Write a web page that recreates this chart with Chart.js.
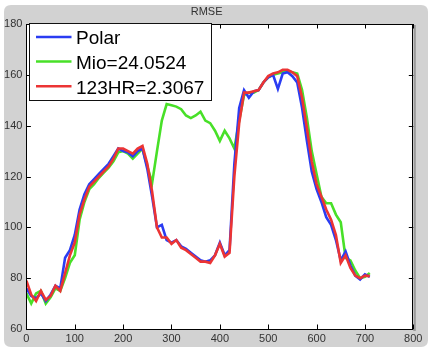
<!DOCTYPE html>
<html>
<head>
<meta charset="utf-8">
<script src="https://cdn.jsdelivr.net/npm/chart.js@4"></script>
<style>
html,body{margin:0;padding:0;background:#fff;}
#c{display:block;}
</style>
</head>
<body>
<canvas id="c" width="434" height="355"></canvas>
<script>
const titleText = "RMSE";
const xTicks = [0,100,200,300,400,500,600,700,800];
const yTicks = [60,80,100,120,140,160,180];
const xs = [0,10,20,30,40,50,60,70,80,90,100,110,120,130,140,150,160,170,180,190,200,210,220,230,240,250,260,270,280,290,300,310,320,330,340,350,360,370,380,390,400,410,420,430,440,450,460,470,480,490,500,510,520,530,540,550,560,570,580,590,600,610,620,630,640,650,660,670,680,690,700,710];
const polarLabel = "Polar";
const polar = [76,73,72,74,71,73.5,77,76,88,91,97,107,113,117,119,121,123,125,128,131,130,129.5,128,130,131,123,112,100,101,95,94,95,92.5,91.5,90,88.5,87,86.5,87,89,94,89,91,125,147,154,151,153.5,154,157,159,160,154.5,160.5,161,159.5,157,147,134,122,115,110,104,101,95,87,90.5,85,81,79.5,81.5,80.5];
const mioLabel = "Mio=24.0524";
const mio = [74,70,74,75,70,72.5,76,75,80,86,89,103,110,115,117,119.5,121.5,123.5,126,129.5,130,129,127,129,131,124,117.5,130,142,148.5,148,147.5,146.5,144,143,144,145.5,142,141,138,134,138,135,131,142,152,153,153,154,157,159,160,160.5,161,161.5,161,160.5,154,143,130,121,112,109.5,109.5,105,102,88,87,83,80,80.5,82];
const hrLabel = "123HR=2.3067";
const hr = [79,73.5,71,75,71.5,73,77,75,82,89,94,105,111,116,118,120,122,124,127,131,131,130,129,131,132,125,114,100,96,96,93.5,95,92,91,89.5,88,86.5,86.5,86,89,93.5,88.5,90,120,141,153,153,153.5,154,157,159.5,160.5,161,162,162,161,159.5,151,139,126,117,112,107,103,97,86,89,84,81,80,81,80.8];

const toPts = ys => xs.map((x,i)=>({x:x,y:ys[i]}));

const plotLeft = 26.4, plotTop = 24, plotRight = 413.3, plotBottom = 329;

const framePlugin = {
  id:'frame',
  beforeDraw(chart){
    const ctx = chart.ctx;
    ctx.save();
    ctx.fillStyle = '#ffffff';
    ctx.fillRect(0,0,chart.width,chart.height);
    // gray figure background
    ctx.fillStyle = '#d2d2d2';
    const x0=4,y0=5,x1=428,y1=347,r=7;
    ctx.beginPath();
    ctx.moveTo(x0+r,y0);ctx.lineTo(x1-r,y0);ctx.quadraticCurveTo(x1,y0,x1,y0+r);
    ctx.lineTo(x1,y1-r);ctx.quadraticCurveTo(x1,y1,x1-r,y1);
    ctx.lineTo(x0+r,y1);ctx.quadraticCurveTo(x0,y1,x0,y1-r);
    ctx.lineTo(x0,y0+r);ctx.quadraticCurveTo(x0,y0,x0+r,y0);
    ctx.fill();
    const a = chart.chartArea;
    // shadow
    ctx.fillStyle = '#9a9a9a';
    ctx.fillRect(a.right, a.top+1, 2.5, a.bottom-a.top+1);
    ctx.fillStyle = '#ffffff';
    ctx.fillRect(a.left, a.top, a.right-a.left, a.bottom-a.top);
    ctx.restore();
  },
  afterDatasetsDraw(chart){
    const ctx = chart.ctx, a = chart.chartArea;
    const xs_ = chart.scales.x, ys_ = chart.scales.y;
    ctx.save();
    ctx.strokeStyle = '#000';
    ctx.lineWidth = 1;
    ctx.strokeRect(Math.round(a.left)+0.5, Math.round(a.top)+0.5, Math.round(a.right-a.left)-1, Math.round(a.bottom-a.top));
    const tl = 4.5;
    ctx.beginPath();
    xs_.ticks.forEach(t=>{
      const px = Math.round(xs_.getPixelForValue(t.value))+0.5;
      ctx.moveTo(px,a.bottom);ctx.lineTo(px,a.bottom-tl);
      ctx.moveTo(px,a.top);ctx.lineTo(px,a.top+tl);
    });
    ys_.ticks.forEach(t=>{
      const py = Math.round(ys_.getPixelForValue(t.value))+0.5;
      ctx.moveTo(a.left,py);ctx.lineTo(a.left+tl,py);
      ctx.moveTo(a.right,py);ctx.lineTo(a.right-tl,py);
    });
    ctx.stroke();
    // legend
    const lx0=29.5, ly0=23.5, lx1=211.5, ly1=100.5;
    ctx.fillStyle='#fff';
    ctx.fillRect(lx0,ly0,lx1-lx0,ly1-ly0);
    ctx.strokeStyle='#111';
    ctx.strokeRect(lx0,ly0,lx1-lx0,ly1-ly0);
    ctx.font = '19px "Liberation Sans", Arial, sans-serif';
    ctx.textBaseline='alphabetic';
    ctx.textAlign='left';
    chart.data.datasets.forEach((ds,i)=>{
      const ly = 37 + i*24.6;
      ctx.strokeStyle = ds.borderColor;
      ctx.lineWidth = 2.5;
      ctx.beginPath();ctx.moveTo(36,ly);ctx.lineTo(71.5,ly);ctx.stroke();
      ctx.fillStyle='#000';
      ctx.fillText(ds.label, 76, ly+7.3);
    });
    ctx.restore();
  }
};

new Chart(document.getElementById('c'), {
  type:'line',
  data:{
    datasets:[
      {label:polarLabel, data:toPts(polar), borderColor:'#2a3cf2', borderWidth:2.6, pointRadius:0, tension:0, order:1},
      {label:mioLabel, data:toPts(mio), borderColor:'#48e028', borderWidth:2.6, pointRadius:0, tension:0, order:2},
      {label:hrLabel, data:toPts(hr), borderColor:'#ec3434', borderWidth:2.6, pointRadius:0, tension:0, order:0}
    ]
  },
  options:{
    responsive:false,
    animation:false,
    devicePixelRatio:1,
    layout:{padding:{left:0,right:434-plotRight,top:0,bottom:0}},
    plugins:{
      legend:{display:false},
      tooltip:{enabled:false},
      title:{display:true,text:titleText,color:'#333',font:{family:'"Liberation Sans", Arial, sans-serif',size:11,weight:'normal'},padding:{top:5,bottom:5.8}}
    },
    scales:{
      x:{type:'linear',min:0,max:800,
        afterBuildTicks(s){s.ticks = xTicks.map(v=>({value:v}));},
        afterFit(s){s.height = 355-plotBottom;},
        grid:{display:false,drawTicks:false},
        border:{display:false},
        ticks:{color:'#333',padding:3,maxRotation:0,autoSkip:false,font:{family:'"Liberation Sans", Arial, sans-serif',size:11}}
      },
      y:{type:'linear',min:60,max:180,
        afterBuildTicks(s){s.ticks = yTicks.map(v=>({value:v}));},
        afterFit(s){s.width = plotLeft;},
        grid:{display:false,drawTicks:false},
        border:{display:false},
        ticks:{color:'#333',padding:4,autoSkip:false,font:{family:'"Liberation Sans", Arial, sans-serif',size:11}}
      }
    }
  },
  plugins:[framePlugin]
});
</script>
</body>
</html>
